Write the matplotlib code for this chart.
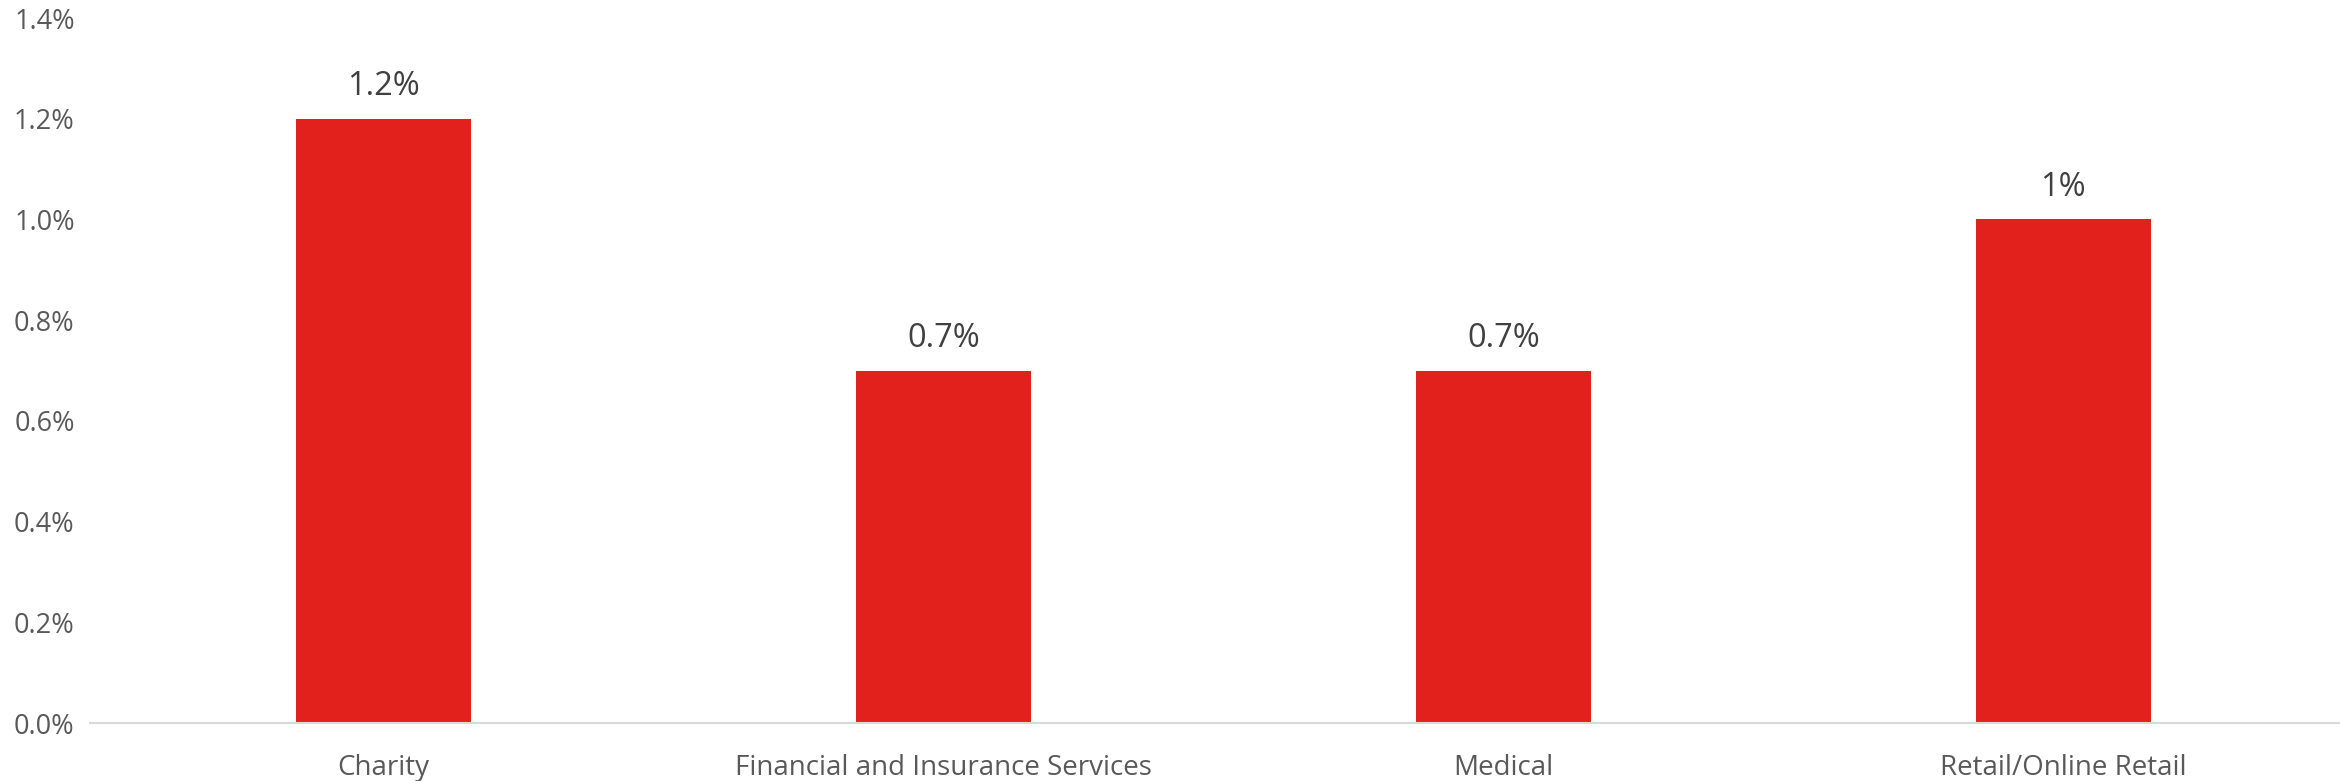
import numpy as np
import matplotlib.pyplot as plt
from matplotlib.ticker import PercentFormatter

categories = ['Charity', 'Financial and Insurance Services', 'Medical', 'Retail/Online Retail']
values = [1.2, 0.7, 0.7, 1.0]
bar_labels = ['1.2%', '0.7%', '0.7%', '1%']
y_ticks = [0.0, 0.2, 0.4, 0.6, 0.8, 1.0, 1.2, 1.4]

plt.rcParams['font.family'] = ['Open Sans', 'DejaVu Sans']

fig = plt.figure(figsize=(23.4, 7.81), dpi=100)
ax = fig.add_axes([90 / 2340, 1 - 723 / 781, 2250 / 2340, (723 - 18) / 781])

x = np.arange(len(categories))
bars = ax.bar(x, values, width=0.3125, color='#E3211C', zorder=2)

# Data labels
for b, lab in zip(bars, bar_labels):
    ax.annotate(lab, (b.get_x() + b.get_width() / 2, b.get_height()),
                xytext=(0, 11), textcoords='offset points',
                ha='center', va='bottom', fontsize=23.5, color='#404040')

ax.set_xlim(-0.524, 3.494)
ax.set_ylim(0, 1.4)
ax.set_yticks(y_ticks)
ax.yaxis.set_major_formatter(PercentFormatter(decimals=1))
ax.set_xticks(x)
ax.set_xticklabels(categories)

for s in ['top', 'right', 'left']:
    ax.spines[s].set_visible(False)
ax.spines['bottom'].set_color('#D9D9D9')
ax.spines['bottom'].set_linewidth(1.5)

ax.tick_params(axis='both', length=0, labelcolor='#595959')
ax.tick_params(axis='y', pad=11, labelsize=19.5)
ax.tick_params(axis='x', pad=22, labelsize=20)

fig.savefig('out.png', dpi=100)
